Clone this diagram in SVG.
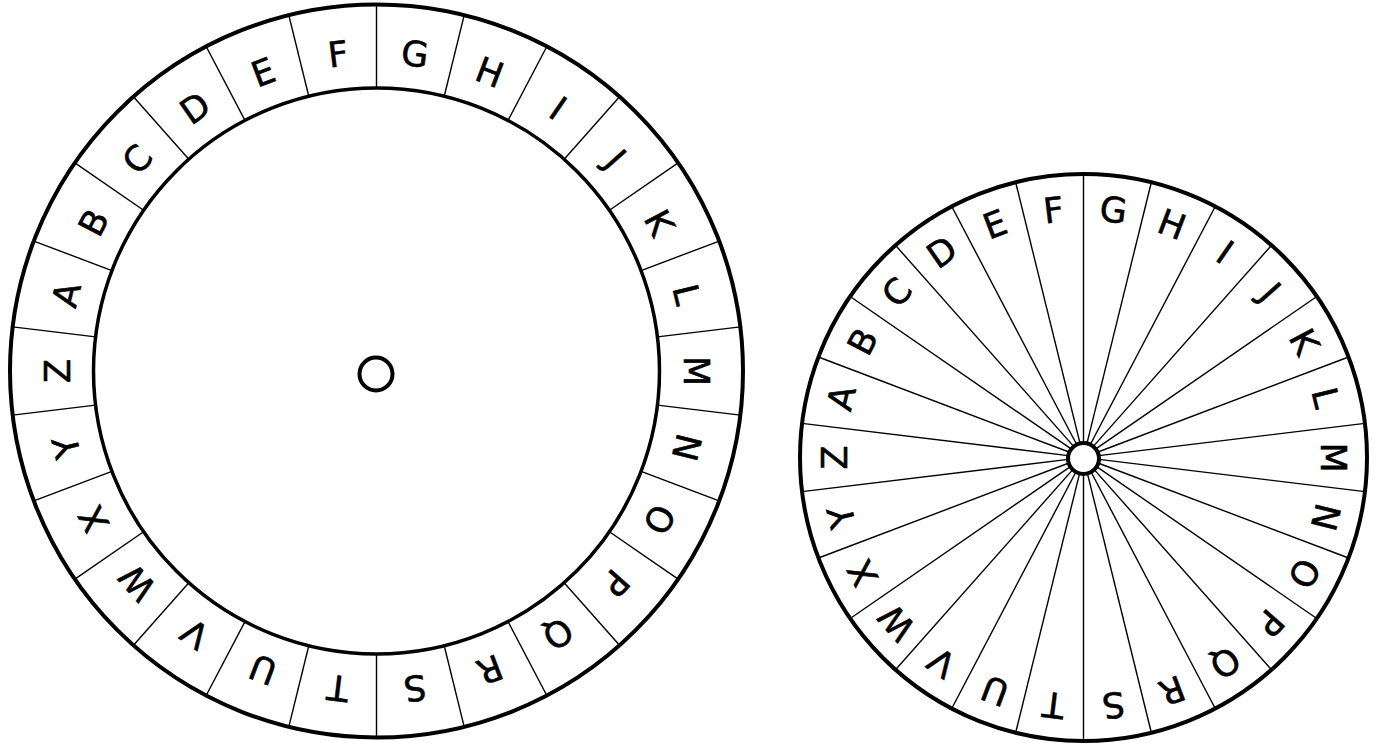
<svg xmlns="http://www.w3.org/2000/svg" width="1376" height="746" viewBox="0 0 1376 746">
<style>
.ring{fill:none;stroke:#000;stroke-width:4}
.inner{fill:none;stroke:#000;stroke-width:3.5}
.hub{fill:#fff;stroke:#000;stroke-width:4}
.div{stroke:#000;stroke-width:1.4}
.lt{font-family:"DejaVu Sans",sans-serif;font-size:35px;text-anchor:middle;fill:#000;stroke:#000;stroke-width:0.6}
.rt{font-family:"DejaVu Sans",sans-serif;font-size:35px;text-anchor:middle;fill:#000;stroke:#000;stroke-width:0.6}
</style>
<rect width="1376" height="746" fill="#fff"/>
<defs>
<line id="ld" class="div" x1="376.5" y1="88" x2="376.5" y2="4.5"/>
<line id="rd" class="div" x1="1083.5" y1="442" x2="1083.5" y2="174"/>
</defs>
<g id="outer-wheel">
<circle class="ring" cx="376.5" cy="371" r="366.5"/>
<circle class="inner" cx="376.5" cy="371" r="283"/>
<g id="outer-dividers">
<use href="#ld" transform="rotate(0 376.5 371)"/>
<use href="#ld" transform="rotate(13.846 376.5 371)"/>
<use href="#ld" transform="rotate(27.692 376.5 371)"/>
<use href="#ld" transform="rotate(41.538 376.5 371)"/>
<use href="#ld" transform="rotate(55.385 376.5 371)"/>
<use href="#ld" transform="rotate(69.231 376.5 371)"/>
<use href="#ld" transform="rotate(83.077 376.5 371)"/>
<use href="#ld" transform="rotate(96.923 376.5 371)"/>
<use href="#ld" transform="rotate(110.769 376.5 371)"/>
<use href="#ld" transform="rotate(124.615 376.5 371)"/>
<use href="#ld" transform="rotate(138.462 376.5 371)"/>
<use href="#ld" transform="rotate(152.308 376.5 371)"/>
<use href="#ld" transform="rotate(166.154 376.5 371)"/>
<use href="#ld" transform="rotate(180 376.5 371)"/>
<use href="#ld" transform="rotate(193.846 376.5 371)"/>
<use href="#ld" transform="rotate(207.692 376.5 371)"/>
<use href="#ld" transform="rotate(221.538 376.5 371)"/>
<use href="#ld" transform="rotate(235.385 376.5 371)"/>
<use href="#ld" transform="rotate(249.231 376.5 371)"/>
<use href="#ld" transform="rotate(263.077 376.5 371)"/>
<use href="#ld" transform="rotate(276.923 376.5 371)"/>
<use href="#ld" transform="rotate(290.769 376.5 371)"/>
<use href="#ld" transform="rotate(304.615 376.5 371)"/>
<use href="#ld" transform="rotate(318.462 376.5 371)"/>
<use href="#ld" transform="rotate(332.308 376.5 371)"/>
<use href="#ld" transform="rotate(346.154 376.5 371)"/>
</g>
<g id="outer-letters" class="lt">
<text x="376.5" y="64" transform="rotate(-76.154 376.5 371)">A</text>
<text x="376.5" y="64" transform="rotate(-62.308 376.5 371)">B</text>
<text x="376.5" y="64" transform="rotate(-48.462 376.5 371)">C</text>
<text x="376.5" y="64" transform="rotate(-34.615 376.5 371)">D</text>
<text x="376.5" y="64" transform="rotate(-20.769 376.5 371)">E</text>
<text x="376.5" y="64" transform="rotate(-6.923 376.5 371)">F</text>
<text x="376.5" y="64" transform="rotate(6.923 376.5 371)">G</text>
<text x="376.5" y="64" transform="rotate(20.769 376.5 371)">H</text>
<text x="376.5" y="64" transform="rotate(34.615 376.5 371)">I</text>
<text x="376.5" y="64" transform="rotate(48.462 376.5 371)">J</text>
<text x="376.5" y="64" transform="rotate(62.308 376.5 371)">K</text>
<text x="376.5" y="64" transform="rotate(76.154 376.5 371)">L</text>
<text x="376.5" y="64" transform="rotate(90 376.5 371)">M</text>
<text x="376.5" y="64" transform="rotate(103.846 376.5 371)">N</text>
<text x="376.5" y="64" transform="rotate(117.692 376.5 371)">O</text>
<text x="376.5" y="64" transform="rotate(131.538 376.5 371)">P</text>
<text x="376.5" y="64" transform="rotate(145.385 376.5 371)">Q</text>
<text x="376.5" y="64" transform="rotate(159.231 376.5 371)">R</text>
<text x="376.5" y="64" transform="rotate(173.077 376.5 371)">S</text>
<text x="376.5" y="64" transform="rotate(186.923 376.5 371)">T</text>
<text x="376.5" y="64" transform="rotate(200.769 376.5 371)">U</text>
<text x="376.5" y="64" transform="rotate(214.615 376.5 371)">V</text>
<text x="376.5" y="64" transform="rotate(228.462 376.5 371)">W</text>
<text x="376.5" y="64" transform="rotate(242.308 376.5 371)">X</text>
<text x="376.5" y="64" transform="rotate(256.154 376.5 371)">Y</text>
<text x="376.5" y="64" transform="rotate(270 376.5 371)">Z</text>
</g>
<circle id="outer-hub" class="hub" cx="376" cy="374" r="16.5"/>
</g>
<g id="inner-wheel">
<circle class="ring" cx="1083.5" cy="457.5" r="283.5"/>
<g id="inner-dividers">
<use href="#rd" transform="rotate(0 1083.5 457.5)"/>
<use href="#rd" transform="rotate(13.846 1083.5 457.5)"/>
<use href="#rd" transform="rotate(27.692 1083.5 457.5)"/>
<use href="#rd" transform="rotate(41.538 1083.5 457.5)"/>
<use href="#rd" transform="rotate(55.385 1083.5 457.5)"/>
<use href="#rd" transform="rotate(69.231 1083.5 457.5)"/>
<use href="#rd" transform="rotate(83.077 1083.5 457.5)"/>
<use href="#rd" transform="rotate(96.923 1083.5 457.5)"/>
<use href="#rd" transform="rotate(110.769 1083.5 457.5)"/>
<use href="#rd" transform="rotate(124.615 1083.5 457.5)"/>
<use href="#rd" transform="rotate(138.462 1083.5 457.5)"/>
<use href="#rd" transform="rotate(152.308 1083.5 457.5)"/>
<use href="#rd" transform="rotate(166.154 1083.5 457.5)"/>
<use href="#rd" transform="rotate(180 1083.5 457.5)"/>
<use href="#rd" transform="rotate(193.846 1083.5 457.5)"/>
<use href="#rd" transform="rotate(207.692 1083.5 457.5)"/>
<use href="#rd" transform="rotate(221.538 1083.5 457.5)"/>
<use href="#rd" transform="rotate(235.385 1083.5 457.5)"/>
<use href="#rd" transform="rotate(249.231 1083.5 457.5)"/>
<use href="#rd" transform="rotate(263.077 1083.5 457.5)"/>
<use href="#rd" transform="rotate(276.923 1083.5 457.5)"/>
<use href="#rd" transform="rotate(290.769 1083.5 457.5)"/>
<use href="#rd" transform="rotate(304.615 1083.5 457.5)"/>
<use href="#rd" transform="rotate(318.462 1083.5 457.5)"/>
<use href="#rd" transform="rotate(332.308 1083.5 457.5)"/>
<use href="#rd" transform="rotate(346.154 1083.5 457.5)"/>
</g>
<g id="inner-letters" class="rt">
<text x="1083.5" y="220.5" transform="rotate(-76.154 1083.5 457.5)">A</text>
<text x="1083.5" y="220.5" transform="rotate(-62.308 1083.5 457.5)">B</text>
<text x="1083.5" y="220.5" transform="rotate(-48.462 1083.5 457.5)">C</text>
<text x="1083.5" y="220.5" transform="rotate(-34.615 1083.5 457.5)">D</text>
<text x="1083.5" y="220.5" transform="rotate(-20.769 1083.5 457.5)">E</text>
<text x="1083.5" y="220.5" transform="rotate(-6.923 1083.5 457.5)">F</text>
<text x="1083.5" y="220.5" transform="rotate(6.923 1083.5 457.5)">G</text>
<text x="1083.5" y="220.5" transform="rotate(20.769 1083.5 457.5)">H</text>
<text x="1083.5" y="220.5" transform="rotate(34.615 1083.5 457.5)">I</text>
<text x="1083.5" y="220.5" transform="rotate(48.462 1083.5 457.5)">J</text>
<text x="1083.5" y="220.5" transform="rotate(62.308 1083.5 457.5)">K</text>
<text x="1083.5" y="220.5" transform="rotate(76.154 1083.5 457.5)">L</text>
<text x="1083.5" y="220.5" transform="rotate(90 1083.5 457.5)">M</text>
<text x="1083.5" y="220.5" transform="rotate(103.846 1083.5 457.5)">N</text>
<text x="1083.5" y="220.5" transform="rotate(117.692 1083.5 457.5)">O</text>
<text x="1083.5" y="220.5" transform="rotate(131.538 1083.5 457.5)">P</text>
<text x="1083.5" y="220.5" transform="rotate(145.385 1083.5 457.5)">Q</text>
<text x="1083.5" y="220.5" transform="rotate(159.231 1083.5 457.5)">R</text>
<text x="1083.5" y="220.5" transform="rotate(173.077 1083.5 457.5)">S</text>
<text x="1083.5" y="220.5" transform="rotate(186.923 1083.5 457.5)">T</text>
<text x="1083.5" y="220.5" transform="rotate(200.769 1083.5 457.5)">U</text>
<text x="1083.5" y="220.5" transform="rotate(214.615 1083.5 457.5)">V</text>
<text x="1083.5" y="220.5" transform="rotate(228.462 1083.5 457.5)">W</text>
<text x="1083.5" y="220.5" transform="rotate(242.308 1083.5 457.5)">X</text>
<text x="1083.5" y="220.5" transform="rotate(256.154 1083.5 457.5)">Y</text>
<text x="1083.5" y="220.5" transform="rotate(270 1083.5 457.5)">Z</text>
</g>
<circle id="inner-hub" class="hub" cx="1083.5" cy="458.5" r="15.5"/>
</g>
</svg>
